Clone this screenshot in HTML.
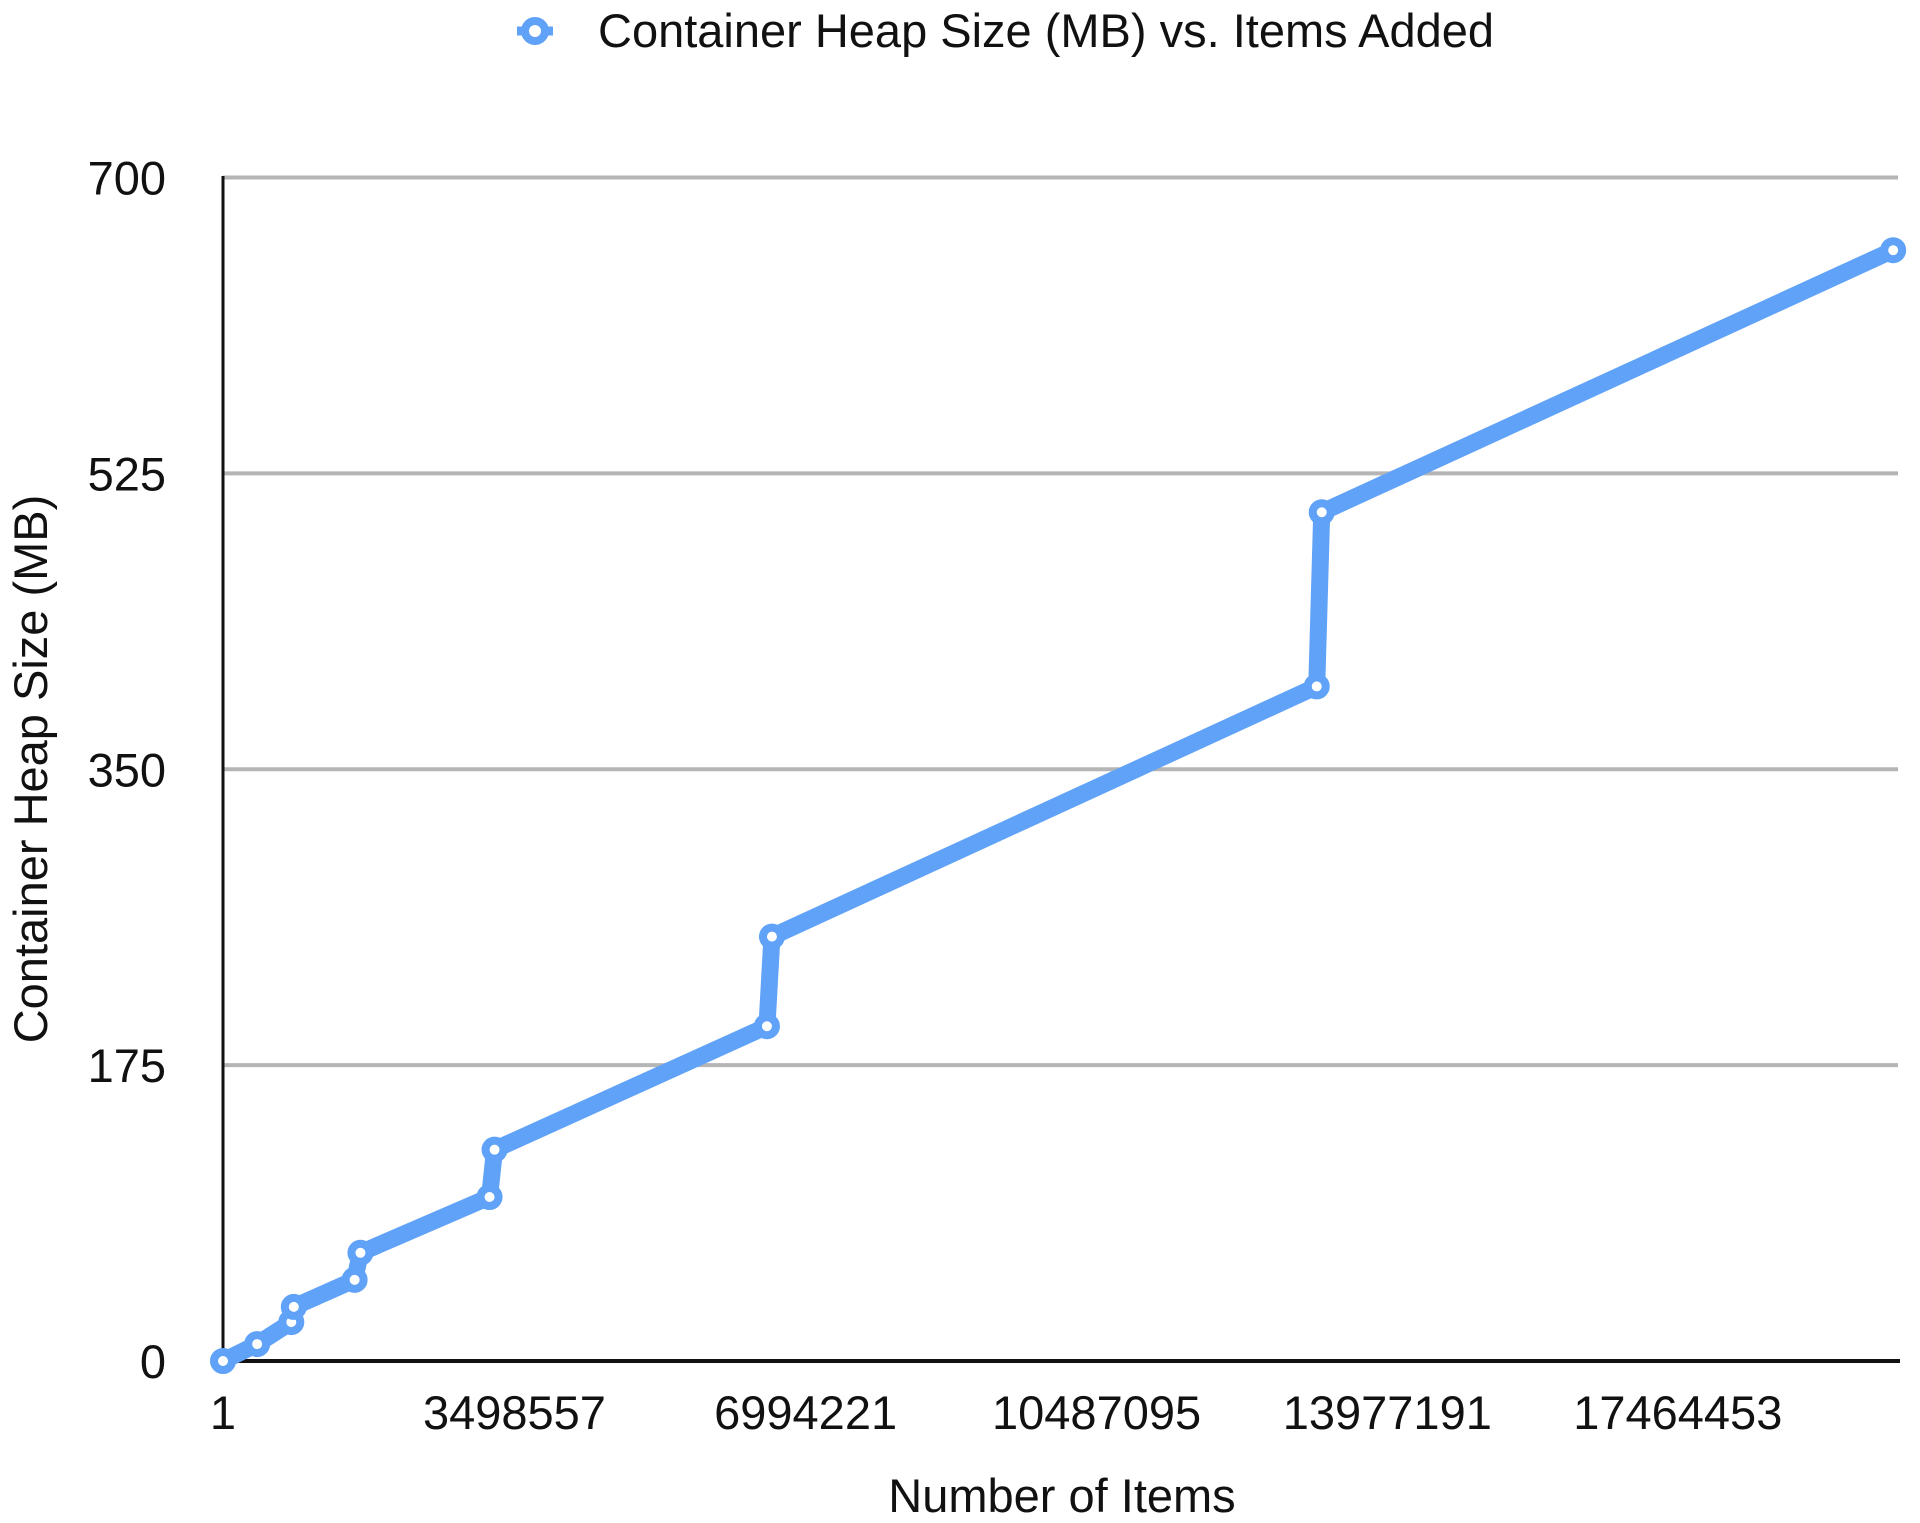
<!DOCTYPE html>
<html><head><meta charset="utf-8"><style>
html,body{margin:0;padding:0;background:#fff;}
svg{display:block;font-family:"Liberation Sans",Arial,sans-serif;}
</style></head><body>
<svg id="chart" width="1920" height="1523" viewBox="0 0 1920 1523">
  <g>
    <line x1="517" y1="31" x2="553" y2="31" stroke="#5fa2f7" stroke-width="9"/>
    <circle cx="535" cy="31" r="10" fill="#fff" stroke="#5fa2f7" stroke-width="8"/>
    <text x="598" y="47" font-size="47" fill="#111">Container Heap Size (MB) vs. Items Added</text>
  </g>
  <g id="grid"></g>
  <g id="yticks"></g>
  <g id="xticks"></g>
  <line x1="223" y1="176" x2="223" y2="1361" stroke="#111" stroke-width="3"/>
  <line x1="221" y1="1361" x2="1900" y2="1361" stroke="#111" stroke-width="4"/>
  <g id="series"></g>
  <text x="1062" y="1512" font-size="47" text-anchor="middle" fill="#111">Number of Items</text>
  <text transform="translate(47,769) rotate(-90)" font-size="47" text-anchor="middle" fill="#111">Container Heap Size (MB)</text>
</svg>
<script>
const xTickLabels = ["1","3498557","6994221","10487095","13977191","17464453"];
const xTickValues = [1,3498557,6994221,10487095,13977191,17464453];
const yTickValues = [0,175,350,525,700];
const itemsAdded = [1,410000,820000,850000,1580000,1650000,3200000,3260000,6530000,6590000,13130000,13190000,20050000];
const heapMB = [0,10,23,32,48,64,97,125,198,251,399,502,657];

const NS="http://www.w3.org/2000/svg";
const X0=223, XMIN=1, XPER=(420-182)*1.2245/3498556;
function xs(v){return X0+(v-XMIN)*XPER;}
function ys(v){return 1361-(v/700)*(1361-177.5);}
function mk(t,a){const e=document.createElementNS(NS,t);for(const k in a)e.setAttribute(k,a[k]);return e;}
const grid=document.getElementById('grid'),yt=document.getElementById('yticks'),xt=document.getElementById('xticks'),ser=document.getElementById('series');
yTickValues.forEach(v=>{
  if(v>0){const l=mk('line',{x1:223,x2:1898,y1:ys(v),y2:ys(v),stroke:'#b5b5b5','stroke-width':4});
  
  
  grid.appendChild(l);}
  const t=mk('text',{x:166,y:ys(v)+17,'font-size':47,'text-anchor':'end',fill:'#111'});
  t.textContent=String(v);
  
  
  yt.appendChild(t);
});
xTickValues.forEach((v,i)=>{
  const t=mk('text',{x:xs(v),y:1429,'font-size':47,'text-anchor':'middle',fill:'#111'});
  t.textContent=xTickLabels[i];
  
  
  xt.appendChild(t);
});
const pts=itemsAdded.map((v,i)=>xs(v)+','+ys(heapMB[i])).join(' ');
const pl=mk('polyline',{points:pts,fill:'none',stroke:'#5fa2f7','stroke-width':17,'stroke-linejoin':'round','stroke-linecap':'round'});


ser.appendChild(pl);
itemsAdded.forEach((v,i)=>{
  const c=mk('circle',{cx:xs(v),cy:ys(heapMB[i]),r:9,fill:'#fff',stroke:'#5fa2f7','stroke-width':8});
  
  
  ser.appendChild(c);
});
</script>
</body></html>
